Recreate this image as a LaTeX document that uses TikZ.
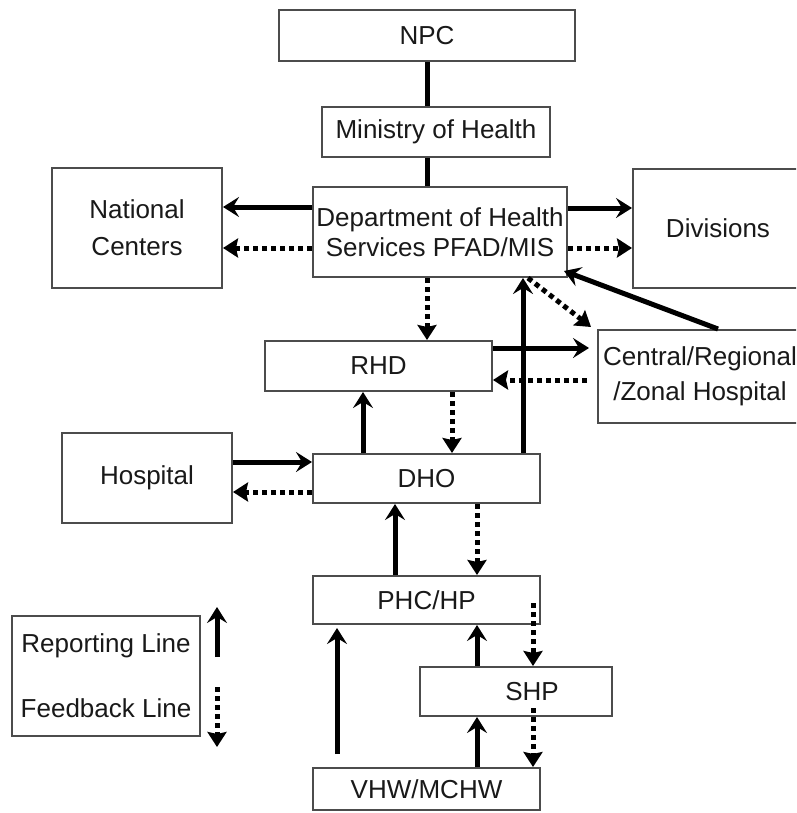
\documentclass[tikz,border=0pt]{standalone}
\usepackage{fontspec}
\setmainfont{Liberation Sans}
\usetikzlibrary{arrows.meta,calc}
\begin{document}
\begin{tikzpicture}[x=1pt,y=-1pt,
  box/.style={draw=black!70, line width=2pt, rectangle, inner sep=0pt,
    align=center, font=\fontsize{26}{30}\selectfont, text=black!90},
  link/.style={line width=5pt},
  rep/.style={line width=5pt, -{Stealth[length=16pt,width=20pt,inset=6pt]}},
  fb/.style={line width=5pt, dash pattern=on 5pt off 4pt,
    -{Stealth[length=15pt,width=19pt,inset=2pt]}},
]
\clip (0,0) rectangle (796,813);
\fill[white] (0,0) rectangle (796,813);

% organisation boxes
\node[box, minimum width=296pt, minimum height=51pt] (npc) at (427,35.5) {NPC};
\node[box, minimum width=228pt, minimum height=50pt] (moh) at (436,132) {Ministry of Health};
\node[box, minimum width=254pt, minimum height=90pt] (dept) at (440,232)
  {Department of Health\\Services PFAD/MIS};
\node[box, minimum width=170pt, minimum height=120pt, font=\fontsize{26}{37}\selectfont]
  (natc) at (137,228) {National\\Centers};
\node[box, minimum width=170pt, minimum height=119pt] (div) at (718,228.5) {Divisions};
\node[box, minimum width=204pt, minimum height=93pt, font=\fontsize{26}{35}\selectfont]
  (central) at (700,376.5) {Central/Regional\\/Zonal Hospital};
\node[box, minimum width=227pt, minimum height=50pt] (rhd) at (378.5,366) {RHD};
\node[box, minimum width=227pt, minimum height=49pt] (dho) at (426.5,478.5) {DHO};
\node[box, minimum width=170pt, minimum height=90pt] (hosp) at (147,478) {Hospital};
\node[box, minimum width=227pt, minimum height=48pt] (phc) at (426.5,600) {PHC/HP};
\node[box, minimum width=192pt, minimum height=49pt] (shp) at (516,691.5) {\hspace*{32pt}SHP};
\node[box, minimum width=227pt, minimum height=42pt] (vhw) at (426.5,789) {VHW/MCHW};

% legend
\node[box, minimum width=188pt, minimum height=120pt, font=\fontsize{26}{65}\selectfont]
  (legend) at (106,676) {Reporting Line\\Feedback Line};
\coordinate (repfrom) at (217,657);
\coordinate (repto) at (217,607);
\coordinate (fbfrom) at (217,687);
\coordinate (fbto) at (217,747);
\draw[rep] (repfrom) -- (repto);
\draw[fb] (fbfrom) -- (fbto);

% plain links at the top
\draw[link] (npc.south) -- (npc.south |- moh.north);
\draw[link] (npc.south |- moh.south) -- (npc.south |- dept.north);

% department to national centers and divisions
\draw[rep] ([yshift=25pt]dept.west) -- ([yshift=25pt]dept.west -| natc.east);
\draw[fb] ([yshift=-16pt]dept.west) -- ([yshift=-16pt]dept.west -| natc.east);
\draw[rep] ([yshift=24pt]dept.east) -- ([yshift=24pt]dept.east -| div.west);
\draw[fb] ([yshift=-16pt]dept.east) -- ([yshift=-16pt]dept.east -| div.west);

% department, RHD and hospitals
\draw[fb] ([xshift=-13pt]dept.south) -- ([xshift=-13pt]dept.south |- rhd.north);
\draw[rep, shorten >=8pt] ([yshift=18pt]rhd.east) -- ([yshift=18pt]rhd.east -| central.west);
\draw[fb, shorten <=10pt] ([yshift=-3.5pt]central.west) -- ([yshift=-3.5pt]central.west -| rhd.east);
\draw[fb] ([xshift=88pt]dept.south) -- ([shift={(-6pt,2pt)}]central.north west);
\draw[rep] ([xshift=18pt]central.north) -- ([shift={(-4pt,7pt)}]dept.south east);

% district level
\draw[rep] ([xshift=96.5pt]dho.north) -- ([xshift=96.5pt]dho.north |- dept.south);
\draw[rep] ([xshift=-63.5pt]dho.north) -- ([xshift=-63.5pt]dho.north |- rhd.south);
\draw[fb] ([xshift=25.5pt]dho.north |- rhd.south) -- ([xshift=25.5pt]dho.north);
\draw[rep] ([yshift=16pt]hosp.east) -- ([yshift=16pt]hosp.east -| dho.west);
\draw[fb] ([yshift=-14pt]hosp.east -| dho.west) -- ([yshift=-14pt]hosp.east);

% primary care level
\draw[rep] ([xshift=-31.5pt]phc.north) -- ([xshift=-31.5pt]phc.north |- dho.south);
\draw[fb] ([xshift=50.5pt]phc.north |- dho.south) -- ([xshift=50.5pt]phc.north);
\draw[rep, shorten <=13pt, shorten >=3pt] ([xshift=-89.5pt]vhw.north) -- ([xshift=-89.5pt]vhw.north |- phc.south);
\draw[rep] ([xshift=50.5pt]phc.south |- shp.north) -- ([xshift=50.5pt]phc.south);
\draw[rep] ([xshift=50.5pt]vhw.north) -- ([xshift=50.5pt]vhw.north |- shp.south);
\coordinate (phcdot) at (533,603);
\coordinate (shpdot) at (533,708);
\draw[fb] (phcdot) -- (phcdot |- shp.north);
\draw[fb] (shpdot) -- (shpdot |- vhw.north);
\end{tikzpicture}
\end{document}
